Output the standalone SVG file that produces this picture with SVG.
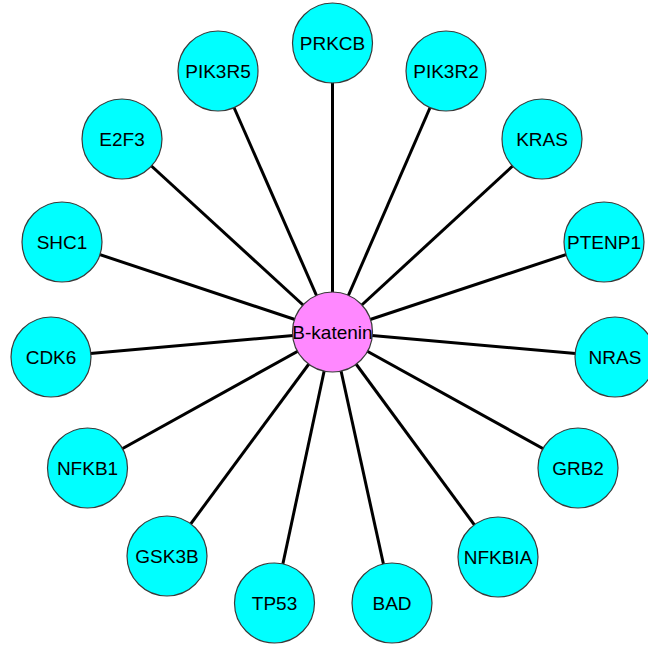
<svg xmlns="http://www.w3.org/2000/svg" width="648" height="649" viewBox="0 0 648 649">
  <style>
    .edge { stroke: #000; stroke-width: 3; }
    .node circle { stroke: #3a3a3a; stroke-width: 1.2; }
    .gene circle { fill: #00ffff; }
    .hub circle { fill: #ff88ff; }
    .node text { font-family: "Liberation Sans", Arial, sans-serif; font-size: 19px; fill: #000; text-anchor: middle; }
  </style>
  <rect width="648" height="649" fill="#fff"/>
  <g id="connectors">
    <line class="edge" x1="332.5" y1="332" x2="332.5" y2="43"/>
    <line class="edge" x1="332.5" y1="332" x2="446" y2="71"/>
    <line class="edge" x1="332.5" y1="332" x2="542" y2="139"/>
    <line class="edge" x1="332.5" y1="332" x2="604" y2="242"/>
    <line class="edge" x1="332.5" y1="332" x2="615" y2="357"/>
    <line class="edge" x1="332.5" y1="332" x2="578" y2="468"/>
    <line class="edge" x1="332.5" y1="332" x2="498" y2="557"/>
    <line class="edge" x1="332.5" y1="332" x2="392" y2="603"/>
    <line class="edge" x1="332.5" y1="332" x2="274.5" y2="603"/>
    <line class="edge" x1="332.5" y1="332" x2="167" y2="556"/>
    <line class="edge" x1="332.5" y1="332" x2="87.5" y2="468"/>
    <line class="edge" x1="332.5" y1="332" x2="51" y2="357"/>
    <line class="edge" x1="332.5" y1="332" x2="62" y2="242"/>
    <line class="edge" x1="332.5" y1="332" x2="122" y2="139"/>
    <line class="edge" x1="332.5" y1="332" x2="218" y2="71"/>
  </g>
  <g id="PRKCB" class="node gene"><circle cx="332.5" cy="43" r="40"/><text x="332.5" y="50">PRKCB</text></g>
  <g id="PIK3R2" class="node gene"><circle cx="446" cy="71" r="40"/><text x="446" y="78">PIK3R2</text></g>
  <g id="KRAS" class="node gene"><circle cx="542" cy="139" r="40"/><text x="542" y="146">KRAS</text></g>
  <g id="PTENP1" class="node gene"><circle cx="604" cy="242" r="40"/><text x="604" y="249">PTENP1</text></g>
  <g id="NRAS" class="node gene"><circle cx="615" cy="357" r="40"/><text x="615" y="364">NRAS</text></g>
  <g id="GRB2" class="node gene"><circle cx="578" cy="468" r="40"/><text x="578" y="475">GRB2</text></g>
  <g id="NFKBIA" class="node gene"><circle cx="498" cy="557" r="40"/><text x="498" y="564">NFKBIA</text></g>
  <g id="BAD" class="node gene"><circle cx="392" cy="603" r="40"/><text x="392" y="610">BAD</text></g>
  <g id="TP53" class="node gene"><circle cx="274.5" cy="603" r="40"/><text x="274.5" y="610">TP53</text></g>
  <g id="GSK3B" class="node gene"><circle cx="167" cy="556" r="40"/><text x="167" y="563">GSK3B</text></g>
  <g id="NFKB1" class="node gene"><circle cx="87.5" cy="468" r="40"/><text x="87.5" y="475">NFKB1</text></g>
  <g id="CDK6" class="node gene"><circle cx="51" cy="357" r="40"/><text x="51" y="364">CDK6</text></g>
  <g id="SHC1" class="node gene"><circle cx="62" cy="242" r="40"/><text x="62" y="249">SHC1</text></g>
  <g id="E2F3" class="node gene"><circle cx="122" cy="139" r="40"/><text x="122" y="146">E2F3</text></g>
  <g id="PIK3R5" class="node gene"><circle cx="218" cy="71" r="40"/><text x="218" y="78">PIK3R5</text></g>
  <g id="B-katenin" class="node hub"><circle cx="332.5" cy="332" r="40"/><text x="332.5" y="339">B-katenin</text></g>
</svg>
